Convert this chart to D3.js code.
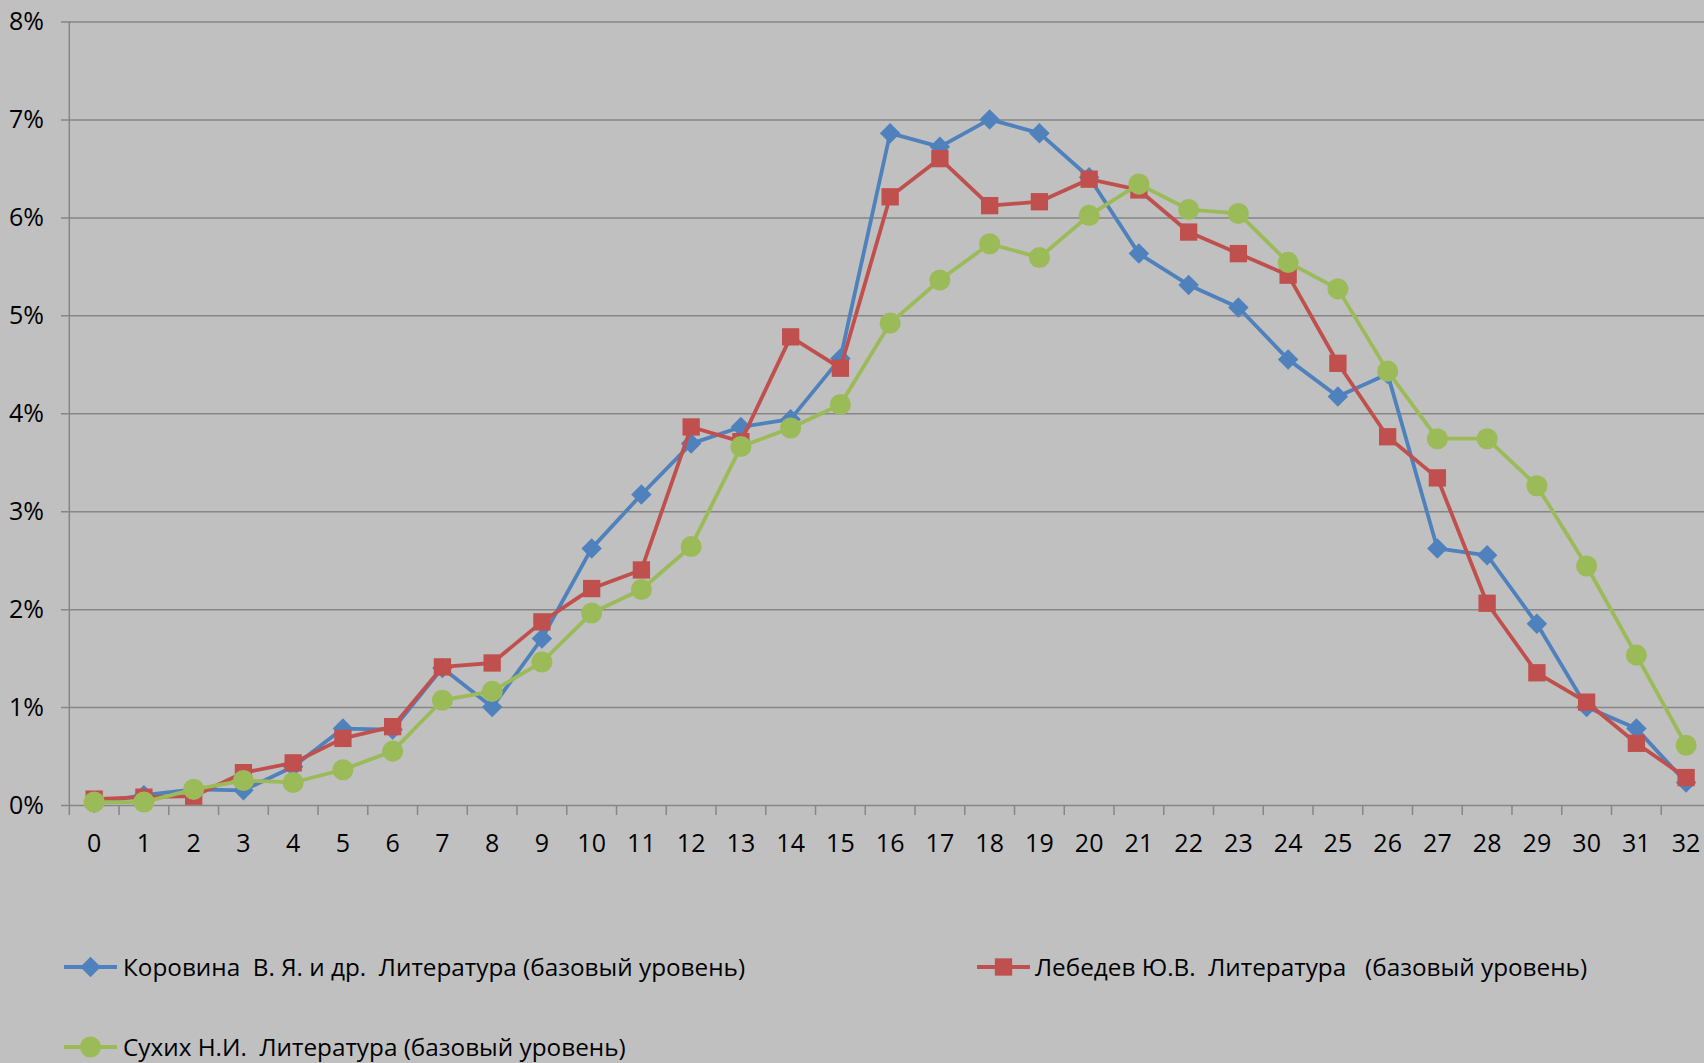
<html>
<head>
<meta charset="utf-8">
<title>Литература</title>
<script src="https://d3js.org/d3.v7.min.js"></script>
<style>
  body { margin: 0; background: #c0c0c0; }
  svg text { font-family: "Open Sans", sans-serif; fill: #000; }
</style>
</head>
<body>
<div id="chart"></div>
<script>
var categories = d3.range(0, 33).map(String);

var korovina = [0.02, 0.10, 0.16, 0.15, 0.39, 0.78, 0.77, 1.40, 1.00, 1.70, 2.62, 3.17, 3.69, 3.86, 3.94, 4.56,
  6.86, 6.72, 7.00, 6.86, 6.41, 5.63, 5.31, 5.08, 4.55, 4.17, 4.40, 2.62, 2.55, 1.85, 1.00, 0.78, 0.23];
var lebedev = [0.06, 0.08, 0.09, 0.33, 0.43, 0.68, 0.80, 1.41, 1.45, 1.87, 2.21, 2.40, 3.86, 3.71, 4.78, 4.46,
  6.21, 6.60, 6.12, 6.16, 6.39, 6.28, 5.85, 5.63, 5.41, 4.51, 3.76, 3.34, 2.06, 1.35, 1.05, 0.63, 0.28];
var sukhikh = [0.03, 0.03, 0.16, 0.25, 0.23, 0.36, 0.55, 1.07, 1.16, 1.46, 1.96, 2.20, 2.64, 3.66, 3.85, 4.09,
  4.92, 5.36, 5.73, 5.59, 6.02, 6.34, 6.08, 6.04, 5.54, 5.27, 4.43, 3.74, 3.74, 3.26, 2.44, 1.53, 0.61];

var seriesNames = [
  "Коровина  В. Я. и др.  Литература (базовый уровень)",
  "Лебедев Ю.В.  Литература   (базовый уровень)",
  "Сухих Н.И.  Литература (базовый уровень)"
];
var yTicks = [0, 1, 2, 3, 4, 5, 6, 7, 8];

var series = [
  { name: seriesNames[0], values: korovina, color: "#4f81bd", shape: "diamond" },
  { name: seriesNames[1], values: lebedev, color: "#c0504d", shape: "square" },
  { name: seriesNames[2], values: sukhikh, color: "#9bbb59", shape: "circle" }
];

var W = 1704, H = 1063;
var plotLeft = 69.3, plotRight = 1711, plotTop = 21.5, plotBottom = 805;
var axisFont = 25, legendFont = 24.3;

var svg = d3.select("#chart").append("svg")
  .attr("width", W)
  .attr("height", H);

svg.append("rect").attr("width", W).attr("height", H).attr("fill", "#c0c0c0");

var x = d3.scaleBand().domain(categories).range([plotLeft, plotRight]).padding(0);
var y = d3.scaleLinear().domain([0, 8]).range([plotBottom, plotTop]);
var cx = function(i) { return x(categories[i]) + x.bandwidth() / 2; };

// horizontal grid + y labels
var yAxis = svg.append("g")
  .attr("transform", "translate(61,0)")
  .call(d3.axisLeft(y).tickValues(yTicks).tickFormat(function(d) { return d + "%"; })
    .tickSize(-(plotRight - 61)).tickPadding(17));
yAxis.select(".domain").remove();
yAxis.selectAll("line").attr("stroke", "#868686").attr("stroke-width", 1.5);
yAxis.selectAll("text").attr("font-family", "Open Sans").attr("font-size", axisFont).attr("fill", "#000");

// vertical axis line
svg.append("line")
  .attr("x1", plotLeft).attr("x2", plotLeft)
  .attr("y1", plotTop).attr("y2", plotBottom)
  .attr("stroke", "#868686").attr("stroke-width", 1.5);

// x axis
var xAxis = svg.append("g")
  .attr("transform", "translate(0," + plotBottom + ")")
  .call(d3.axisBottom(x).tickSize(0).tickPadding(0));
xAxis.select(".domain").remove();
xAxis.selectAll("text")
  .attr("y", 38).attr("dy", "0.35em")
  .attr("font-family", "Open Sans").attr("font-size", axisFont).attr("fill", "#000");

var bounds = categories.map(function(c) { return x(c); }).concat([plotRight]);
svg.append("g").selectAll("line")
  .data(bounds)
  .enter().append("line")
  .attr("x1", function(d) { return d; }).attr("x2", function(d) { return d; })
  .attr("y1", plotBottom).attr("y2", plotBottom + 10)
  .attr("stroke", "#868686").attr("stroke-width", 1.5);

function markerPath(shape) {
  if (shape === "diamond") return d3.symbol().type(d3.symbolSquare).size(210)();
  if (shape === "square") return d3.symbol().type(d3.symbolSquare).size(300)();
  return d3.symbol().type(d3.symbolCircle).size(350)();
}
function markerRot(shape) { return shape === "diamond" ? " rotate(45)" : ""; }

var line = d3.line()
  .x(function(d, i) { return cx(i); })
  .y(function(d) { return y(d); });

series.forEach(function(s) {
  var g = svg.append("g");
  g.append("path")
    .attr("d", line(s.values))
    .attr("fill", "none")
    .attr("stroke", s.color)
    .attr("stroke-width", 3.8)
    .attr("stroke-linejoin", "round");
  g.selectAll("path.m")
    .data(s.values)
    .enter().append("path")
    .attr("class", "m")
    .attr("d", markerPath(s.shape))
    .attr("transform", function(d, i) { return "translate(" + cx(i) + "," + y(d) + ")" + markerRot(s.shape); })
    .attr("fill", s.color);
});

// legend
var legendPos = [
  { lx: 64, ly: 967, tx: 123 },
  { lx: 977, ly: 967, tx: 1035 },
  { lx: 64, ly: 1047, tx: 123 }
];
series.forEach(function(s, i) {
  var p = legendPos[i];
  var g = svg.append("g");
  g.append("line")
    .attr("x1", p.lx).attr("x2", p.lx + 53)
    .attr("y1", p.ly).attr("y2", p.ly)
    .attr("stroke", s.color).attr("stroke-width", 3.8);
  g.append("path")
    .attr("d", markerPath(s.shape))
    .attr("transform", "translate(" + (p.lx + 26.5) + "," + p.ly + ")" + markerRot(s.shape))
    .attr("fill", s.color);
  g.append("text")
    .attr("x", p.tx).attr("y", p.ly)
    .attr("dy", "0.35em")
    .attr("font-size", legendFont)
    .style("white-space", "pre")
    .text(s.name);
});
</script>
</body>
</html>
